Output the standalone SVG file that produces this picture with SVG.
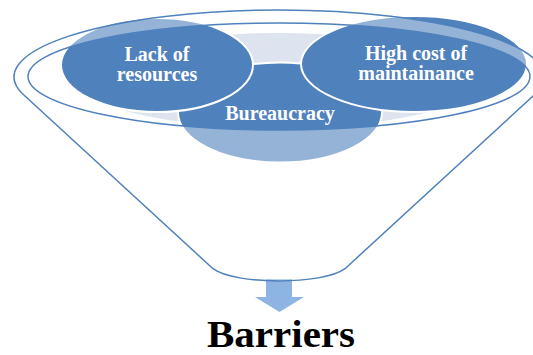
<svg xmlns="http://www.w3.org/2000/svg" width="533" height="355" viewBox="0 0 533 355">
  <style>
    .node { fill: #4F81BD; stroke: #FFFFFF; stroke-width: 2; }
    .label { font-family: "Liberation Serif", "Times New Roman", serif; font-weight: bold; font-size: 20px; fill: #FFFFFF; text-anchor: middle; }
    .rim { fill: none; stroke: #4F81BD; stroke-width: 1.5; }
    .title { font-family: "Liberation Serif", "Times New Roman", serif; font-weight: bold; font-size: 38px; fill: #000000; text-anchor: middle; }
  </style>
  <rect width="533" height="355" fill="#FFFFFF"/>

  <!-- funnel mouth interior, seen between the items -->
  <ellipse cx="279" cy="80.5" rx="200" ry="47.5" fill="#DDE4EF"/>

  <!-- items dropped into the funnel -->
  <g id="node-bureaucracy">
    <ellipse class="node" cx="280" cy="112.5" rx="102" ry="50"/>
    <text class="label" x="280" y="120">Bureaucracy</text>
  </g>
  <g id="node-lack-of-resources">
    <ellipse class="node" cx="157" cy="65" rx="96" ry="47"/>
    <text class="label" x="157" y="61">Lack of</text>
    <text class="label" x="157" y="81">resources</text>
  </g>
  <g id="node-high-cost">
    <ellipse class="node" cx="414" cy="64" rx="113" ry="48"/>
    <text class="label" x="416" y="60">High cost of</text>
    <text class="label" x="416" y="80">maintainance</text>
  </g>

  <g id="connectors">
    <!-- down arrow out of the funnel -->
    <path d="M266 279 H292 V297 H304 L279.5 312 L255 297 H266 Z" fill="#8DB4E2"/>
  </g>

  <!-- funnel body: translucent white with the mouth cut out -->
  <g id="funnel">
    <path fill="#FFFFFF" fill-opacity="0.4" fill-rule="evenodd"
          d="M23.6 94.8 A265 67 0 1 1 534.4 94.8 L345 268.7 C323 285 235 285 213 268.7 Z
             M28 76.5 A251 53.5 0 1 0 530 76.5 A251 53.5 0 1 0 28 76.5 Z"/>
    <path class="rim" d="M23.6 94.8 A265 67 0 1 1 534.4 94.8 L345 268.7 C323 285 235 285 213 268.7 Z"/>
    <ellipse class="rim" cx="279" cy="76.5" rx="251" ry="53.5"/>
  </g>

  <text class="title" x="281" y="347" textLength="148" lengthAdjust="spacingAndGlyphs">Barriers</text>
</svg>
